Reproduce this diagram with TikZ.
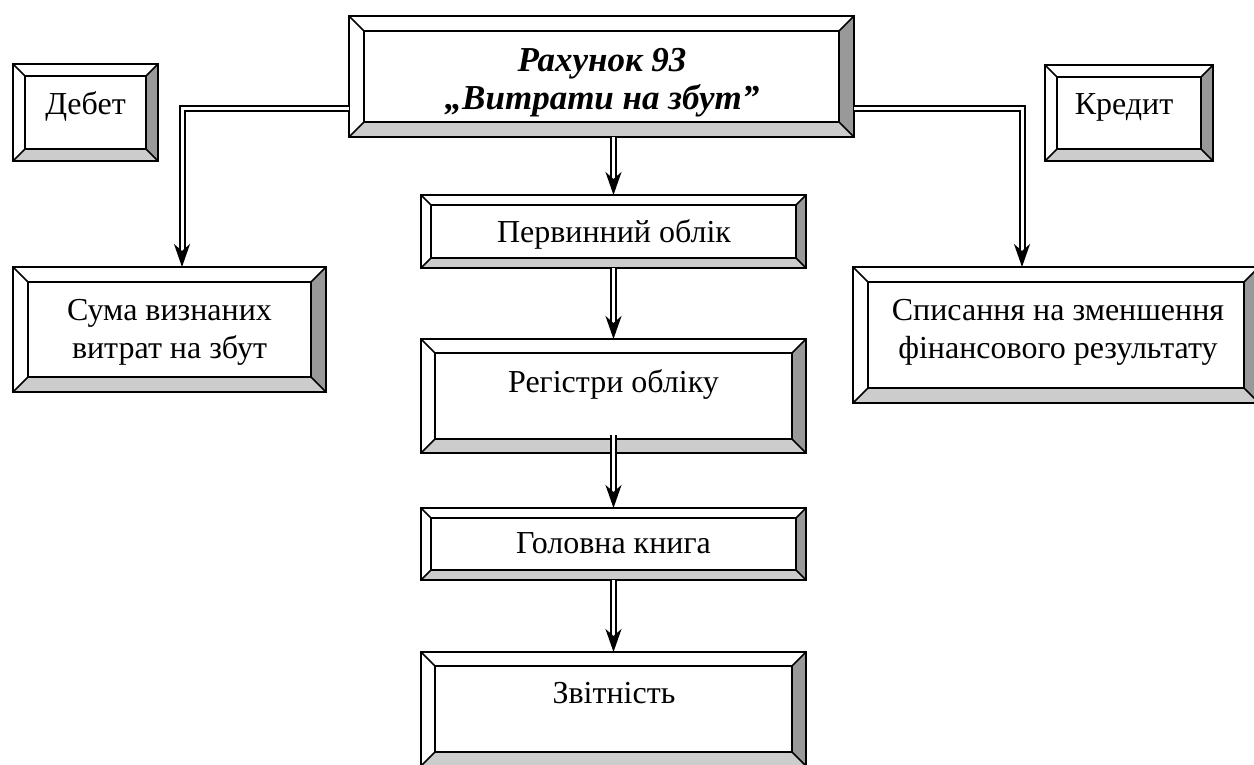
\documentclass[tikz,border=0pt]{standalone}
\usepackage{fontspec}
\setmainfont{Liberation Serif}
\usetikzlibrary{arrows.meta,calc}

% bevelled box drawn round a named node: #1 node, #2 bevel width
\newcommand{\bevelbox}[2]{%
  \fill[black!40] (#1.north east) -- (#1.south east) -- ($(#1.south east)+(-#2,-#2)$) -- ($(#1.north east)+(-#2,#2)$) -- cycle;
  \fill[black!20] (#1.south west) -- (#1.south east) -- ($(#1.south east)+(-#2,-#2)$) -- ($(#1.south west)+(#2,-#2)$) -- cycle;
  \draw (#1.north west) rectangle (#1.south east);
  \draw ($(#1.north west)+(#2,#2)$) rectangle ($(#1.south east)+(-#2,-#2)$);
  \draw (#1.north west) -- ++(#2,#2);
  \draw (#1.north east) -- ++(-#2,#2);
  \draw (#1.south east) -- ++(-#2,-#2);
  \draw (#1.south west) -- ++(#2,-#2);
}

\begin{document}
\begin{tikzpicture}
      [
      x=1pt,y=-1pt,
      line width=1.5pt,
      box/.style={rectangle,inner sep=0pt,outer sep=0pt},
      lbl/.style={font=\fontsize{32}{38}\selectfont,align=center,inner sep=0pt},
      dbl/.style={double,double distance=3pt,line width=2pt,-{Stealth[length=23pt,width=16pt,inset=7pt]}}
      ]
      \useasboundingbox (0,0) rectangle (1254,765);
      % boxes
      \node (title) at (601.5,76.5) [box,minimum width=505pt,minimum height=121pt] {};
      \node (debet) at (85.5,112.5) [box,minimum width=145pt,minimum height=97pt] {};
      \node (kredit) at (1129,113) [box,minimum width=168pt,minimum height=96pt] {};
      \node (suma) at (169.5,329.5) [box,minimum width=313pt,minimum height=125pt] {};
      \node (spys) at (1056,335) [box,minimum width=406pt,minimum height=136pt] {};
      \node (pervyn) at (613.5,231.5) [box,minimum width=385pt,minimum height=73pt] {};
      \node (registr) at (613.5,396) [box,minimum width=385pt,minimum height=114pt] {};
      \node (holovna) at (613.5,544) [box,minimum width=385pt,minimum height=72pt] {};
      \node (zvit) at (613.5,709) [box,minimum width=385pt,minimum height=114pt] {};
      \bevelbox{title}{15}
      \bevelbox{debet}{12}
      \bevelbox{kredit}{12}
      \bevelbox{suma}{15}
      \bevelbox{spys}{15}
      \bevelbox{pervyn}{10}
      \bevelbox{registr}{14}
      \bevelbox{holovna}{10}
      \bevelbox{zvit}{14}
      % texts
      \node (title-t) at (602,110) [lbl,anchor=base,font=\fontsize{35}{38}\selectfont\bfseries\itshape] {Рахунок 93\\„Витрати на збут”};
      \node (debet-t) at (85.5,115) [lbl,anchor=base] {Дебет};
      \node (kredit-t) at (1124,115) [lbl,anchor=base] {Кредит};
      \node (suma-t) at (169.5,358) [lbl,anchor=base] {Сума визнаних\\витрат на збут};
      \node (spys-t) at (1058,358) [lbl,anchor=base] {Списання на зменшення\\фінансового результату};
      \node (pervyn-t) at (614,243) [lbl,anchor=base] {Первинний облік};
      \node (registr-t) at (613.5,392) [lbl,anchor=base] {Регістри обліку};
      \node (holovna-t) at (613.5,553) [lbl,anchor=base] {Головна книга};
      \node (zvit-t) at (614,703) [lbl,anchor=base] {Звітність};
      % connectors
      \coordinate (tl) at ($(title.south west)+(0,-28)$);
      \coordinate (tr) at ($(title.south east)+(0,-28)$);
      \draw [dbl] (tl) -| ([xshift=12.5pt]suma.north);
      \draw [dbl] (tr) -| ([xshift=-34pt]spys.north);
      \draw [dbl] (pervyn.north |- title.south) to (pervyn.north);
      \draw [dbl] (pervyn.south) to (registr.north);
      \draw [dbl] ([yshift=18pt]registr.south) to (holovna.north);
      \draw [dbl] (holovna.south) to (zvit.north);
    \end{tikzpicture}
\end{document}
